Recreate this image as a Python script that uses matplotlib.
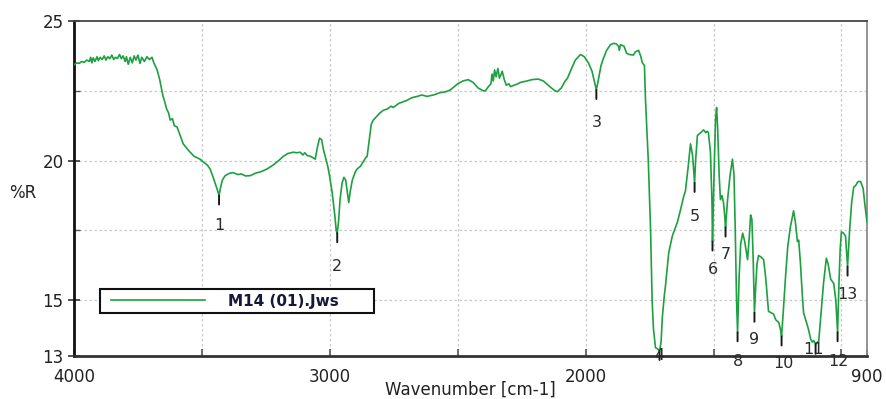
import numpy as np
import matplotlib
matplotlib.use("Agg")
import matplotlib.pyplot as plt
from matplotlib.legend_handler import HandlerLine2D

# ---------------- data ----------------
series_name = "M14 (01).Jws"

wavenumber = [
    4000, 3990, 3980, 3970, 3960, 3950, 3940, 3935, 3930, 3925, 3918, 3910, 3905, 3898, 3890,
    3882, 3875, 3868, 3860, 3852, 3845, 3838, 3830, 3822, 3815, 3808, 3800, 3795, 3788, 3780,
    3772, 3765, 3758, 3750, 3742, 3735, 3725, 3715, 3705, 3695, 3688, 3680, 3675, 3665, 3652,
    3645, 3638, 3630, 3624, 3615, 3608, 3597, 3585, 3573, 3560, 3546, 3530, 3507, 3495, 3480,
    3468, 3456, 3445, 3436, 3433, 3428, 3420, 3410, 3402, 3390, 3378, 3360, 3345, 3330, 3311,
    3290, 3270, 3245, 3220, 3200, 3182, 3165, 3143, 3130, 3116, 3105, 3098, 3088, 3075, 3065,
    3057, 3048, 3040, 3032, 3025, 3018, 3008, 3000, 2990, 2980, 2975, 2971, 2966, 2960, 2952,
    2945, 2938, 2932, 2926, 2920, 2912, 2900, 2893, 2880, 2870, 2860, 2854, 2845, 2838, 2830,
    2815, 2805, 2791, 2775, 2760, 2752, 2730, 2700, 2680, 2658, 2640, 2620, 2595, 2570, 2545,
    2529, 2500, 2480, 2459, 2440, 2420, 2400, 2392, 2380, 2370, 2366, 2361, 2356, 2350, 2343,
    2337, 2330, 2326, 2318, 2310, 2300, 2294, 2280, 2265, 2255, 2230, 2210, 2185, 2165, 2140,
    2120, 2110, 2095, 2080, 2071, 2055, 2040, 2020, 2005, 1989, 1975, 1965, 1958, 1950, 1940,
    1930, 1918, 1903, 1890, 1880, 1872, 1868, 1864, 1850, 1840, 1830, 1813, 1805, 1793, 1785,
    1778, 1770, 1766, 1755, 1746, 1740, 1735, 1727, 1718, 1711, 1705, 1700, 1692, 1688, 1675,
    1661, 1641, 1630, 1617, 1610, 1600, 1590, 1582, 1577, 1574, 1570, 1563, 1550, 1539, 1530,
    1525, 1520, 1512, 1506, 1504, 1498, 1492, 1488, 1484, 1478, 1473, 1467, 1461, 1456, 1453,
    1445, 1435, 1426, 1420, 1415, 1410, 1406, 1400, 1394, 1386, 1378, 1367, 1360, 1355, 1350,
    1345, 1340, 1335, 1330, 1324, 1315, 1304, 1296, 1285, 1275, 1265, 1257, 1245, 1237, 1234,
    1228, 1218, 1210, 1200, 1187, 1180, 1172, 1167, 1160, 1153, 1148, 1140, 1130, 1120, 1114,
    1108, 1101, 1094, 1089, 1080, 1070, 1059, 1052, 1042, 1030, 1022, 1015, 1010, 1005, 1000,
    992, 984, 976, 968, 960, 952, 945, 935, 925, 915, 908, 900,
]

reflectance = [
    23.43, 23.50, 23.48, 23.55, 23.52, 23.60, 23.55, 23.70, 23.50, 23.68, 23.55, 23.72, 23.58, 23.70, 23.62,
    23.75, 23.60, 23.72, 23.65, 23.78, 23.62, 23.70, 23.66, 23.80, 23.65, 23.75, 23.55, 23.72, 23.45, 23.70,
    23.50, 23.75, 23.60, 23.78, 23.48, 23.70, 23.55, 23.72, 23.62, 23.70, 23.50, 23.35, 23.25, 22.90, 22.30,
    22.10, 21.85, 21.70, 21.45, 21.50, 21.25, 21.20, 20.90, 20.60, 20.45, 20.30, 20.15, 20.05, 19.95, 19.85,
    19.70, 19.40, 19.10, 18.85, 18.75, 19.00, 19.30, 19.45, 19.50, 19.55, 19.57, 19.50, 19.52, 19.45, 19.46,
    19.55, 19.60, 19.70, 19.85, 20.00, 20.15, 20.25, 20.30, 20.28, 20.30, 20.20, 20.28, 20.18, 20.15, 20.10,
    20.05, 20.50, 20.80, 20.75, 20.40, 20.15, 19.80, 19.40, 18.80, 18.00, 17.50, 17.40, 17.80, 18.60, 19.20,
    19.40, 19.30, 18.90, 18.50, 18.90, 19.30, 19.60, 19.70, 19.80, 19.95, 20.10, 20.15, 20.80, 21.30, 21.45,
    21.60, 21.70, 21.80, 21.85, 21.95, 21.90, 22.05, 22.15, 22.25, 22.30, 22.35, 22.30, 22.35, 22.43, 22.47,
    22.53, 22.75, 22.85, 22.90, 22.80, 22.60, 22.50, 22.50, 22.65, 22.75, 23.10, 22.85, 23.25, 23.00, 23.30,
    22.95, 23.10, 23.20, 22.90, 22.70, 22.75, 22.65, 22.70, 22.75, 22.80, 22.85, 22.90, 22.92, 22.85, 22.65,
    22.50, 22.47, 22.60, 22.85, 22.95, 23.30, 23.60, 23.80, 23.72, 23.50, 23.20, 22.80, 22.53, 22.90, 23.40,
    23.67, 23.95, 24.15, 24.20, 24.18, 24.10, 23.95, 24.15, 24.10, 23.85, 23.80, 23.78, 23.90, 23.95, 23.75,
    23.50, 23.40, 22.20, 20.00, 17.50, 15.00, 14.00, 13.30, 13.25, 13.18, 13.50, 14.40, 15.20, 15.50, 16.70,
    17.30, 17.80, 18.20, 18.70, 18.90, 19.70, 20.60, 20.20, 19.60, 19.20, 20.00, 20.90, 21.00, 21.10, 21.00,
    21.05, 21.00, 20.30, 18.50, 17.10, 19.50, 21.50, 21.90, 21.20, 19.50, 18.60, 18.75, 18.50, 18.00, 17.60,
    18.60, 19.50, 20.05, 19.50, 17.50, 15.00, 13.85, 15.80, 17.00, 17.40, 17.10, 16.45, 17.30, 18.05, 17.90,
    16.50, 14.55, 15.50, 16.30, 16.60, 16.55, 16.45, 15.80, 14.60, 14.55, 14.50, 14.30, 14.20, 13.90, 13.70,
    14.50, 15.90, 16.90, 17.60, 18.20, 17.80, 17.10, 17.15, 16.30, 15.20, 14.55, 14.30, 14.00, 13.60, 13.50,
    13.55, 13.40, 13.50, 13.50, 14.50, 15.60, 16.50, 16.30, 15.75, 15.60, 15.00, 13.85, 15.50, 16.80, 17.45,
    17.40, 17.30, 16.20, 17.50, 18.50, 19.05, 19.10, 19.25, 19.25, 19.00, 18.40, 17.80,
]

peak_numbers = ["1", "2", "3", "4", "5", "6", "7", "8", "9", "10", "11", "12", "13"]
peak_wavenumbers = [3433, 2971, 1958, 1711, 1574, 1504, 1453, 1406, 1340, 1234, 1101, 1015, 976]

x_tick_values = [4000, 3000, 2000, 900]
x_tick_labels = ["4000", "3000", "2000", "900"]
y_tick_values = [13, 15, 20, 25]
y_tick_labels = ["13", "15", "20", "25"]

# ---------------- layout / style ----------------
W, H, DPI = 887, 399, 100
LINE_COLOR = "#1da040"
GRID_COLOR = "#c9c9c9"
# label offsets (pixels, dx, dy downward) relative to each peak
label_offsets = [(0, 30), (0, 33), (0, 33), (0, 5), (0, 34), (0, 28), (0, 27),
                 (0, 29), (0, 27), (2, 27), (-2, 5), (1, 29), (0, 28)]
PX2PT = 72.0 / DPI

plt.rcParams["font.family"] = ["DejaVu Sans"]

fig = plt.figure(figsize=(W / DPI, H / DPI), dpi=DPI)
ax = fig.add_axes([74 / W, 1 - 356 / H, (867 - 74) / W, (356 - 21) / H])

x_arr = np.array(wavenumber, dtype=float)
y_arr = np.array(reflectance, dtype=float)
ax.plot(x_arr, y_arr, color=LINE_COLOR, lw=1.2, label=series_name, zorder=3)

ax.set_xlim(4000, 900)
ax.set_ylim(13, 25)

# grid
ax.set_xticks(x_tick_values)
ax.set_xticklabels(x_tick_labels)
ax.set_xticks([3500, 2500, 1500, 1000], minor=True)
ax.set_yticks(y_tick_values)
ax.set_yticklabels(y_tick_labels)
ax.set_yticks([17.5, 22.5], minor=True)
for xv in [3500, 3000, 2500, 2000, 1500, 1000]:
    ax.axvline(xv, color=GRID_COLOR, lw=0.9, ls=(0, (2, 2)), zorder=1)
for yv in [15, 17.5, 20, 22.5]:
    ax.axhline(yv, color=GRID_COLOR, lw=0.9, ls=(0, (2, 2)), zorder=1)

ax.tick_params(axis="both", which="major", labelsize=12, colors="#222222",
               labelcolor="#222222")
ax.tick_params(axis="x", which="both", direction="in", length=5, width=1.2, pad=9,
               color="#555555")
ax.tick_params(axis="y", which="major", direction="inout", length=9, width=1.2, pad=3,
               color="#333333")
ax.tick_params(axis="y", which="minor", direction="in", length=4, width=1.0,
               color="#555555")

for side, col, lw in [("left", "#111111", 2.0), ("bottom", "#333333", 2.0),
                      ("top", "#444444", 1.3), ("right", "#8a8a8a", 1.3)]:
    ax.spines[side].set_color(col)
    ax.spines[side].set_linewidth(lw)

ax.set_xlabel("Wavenumber [cm-1]", fontsize=12, color="#222222")
ax.xaxis.set_label_coords((470 - 74) / (867 - 74), (356 - 381) / (356 - 21))
fig.text(23 / W, 1 - 193 / H, "%R", fontsize=12, color="#222222",
         ha="center", va="center")

# peak markers and labels
peak_y = np.interp(peak_wavenumbers, x_arr[::-1], y_arr[::-1])
for num, pw, py, (dx, dy) in zip(peak_numbers, peak_wavenumbers, peak_y, label_offsets):
    ax.annotate("", xy=(pw, py), xytext=(0, -9 * PX2PT), textcoords="offset points",
                arrowprops=dict(arrowstyle="-", color="#1a1a1a", lw=1.4,
                                shrinkA=0, shrinkB=0),
                annotation_clip=False, zorder=4)
    ax.annotate(num, xy=(pw, py), xytext=(dx * PX2PT, -dy * PX2PT),
                textcoords="offset points", ha="center", va="center",
                fontsize=11.5, color="#2a2a2a", annotation_clip=False, zorder=5)

# legend
leg = ax.legend(
    loc="upper left",
    bbox_to_anchor=((100 - 74) / (867 - 74), (356 - 289) / (356 - 21),
                    (374 - 100) / (867 - 74), 0),
    mode="expand", borderaxespad=0, borderpad=0.3, fancybox=False, shadow=False,
    frameon=True, handlelength=6.55, handletextpad=1.5,
    prop={"weight": "bold", "size": 11}, labelcolor="#17173a",
    handler_map={plt.Line2D: HandlerLine2D(xpad=0.45)},
)
leg.get_frame().set_edgecolor("#111111")
leg.get_frame().set_linewidth(1.5)
leg.get_frame().set_alpha(1)

fig.savefig("out.png", dpi=DPI)
